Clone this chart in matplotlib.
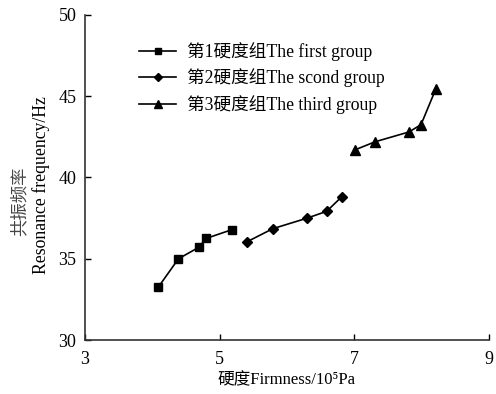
import matplotlib
matplotlib.use("Agg")
import matplotlib.pyplot as plt

plt.rcParams['font.family'] = ['Liberation Serif', 'Noto Sans CJK SC']

# group 1 - squares
g1_x = [4.09, 4.39, 4.69, 4.80, 5.19]
g1_y = [33.25, 35.0, 35.7, 36.25, 36.8]
# group 2 - diamonds
g2_x = [5.41, 5.79, 6.30, 6.59, 6.81]
g2_y = [36.05, 36.85, 37.5, 37.92, 38.8]
# group 3 - triangles
g3_x = [7.01, 7.31, 7.81, 7.99, 8.21]
g3_y = [41.7, 42.2, 42.8, 43.25, 45.45]

labels = ["第1硬度组The first group", "第2硬度组The scond group", "第3硬度组The third group"]

fig = plt.figure(figsize=(4.96, 3.94), dpi=100)
ax = fig.add_axes([0.171, 0.137, 0.815, 0.825])

ax.plot(g1_x, g1_y, '-s', color='black', lw=1.2, ms=6, label=labels[0])
ax.plot(g2_x, g2_y, '-D', color='black', lw=1.2, ms=5, label=labels[1])
ax.plot(g3_x, g3_y, '-^', color='black', lw=1.2, ms=6.5, label=labels[2])

ax.set_xlim(3, 9)
ax.set_ylim(30, 50)
ax.set_xticks([3, 5, 7, 9])
ax.set_yticks([30, 35, 40, 45, 50])
ax.spines['top'].set_visible(False)
ax.spines['right'].set_visible(False)
for s in ['left', 'bottom']:
    ax.spines[s].set_linewidth(1.2)
    ax.spines[s].set_color('#333333')
ax.tick_params(direction='in', length=4, width=1, labelsize=13)
ax.tick_params(axis='x', pad=8)
ax.tick_params(axis='y', pad=6)

ax.set_xlabel("硬度Firmness/10⁵Pa", fontsize=12, labelpad=3)

fig.text(0.04, 0.49, "共振频率", rotation=90, fontsize=12.5, ha='center', va='center', color='#444444')
fig.text(0.082, 0.53, "Resonance frequency/Hz", rotation=90, fontsize=12.8, ha='center', va='center')

leg = ax.legend(loc='upper left', bbox_to_anchor=(0.095, 0.965), frameon=False, fontsize=12.7,
                handlelength=2.1, labelspacing=0.42, handletextpad=0.6, markerscale=0.8)

fig.savefig("out.png", dpi=100)
